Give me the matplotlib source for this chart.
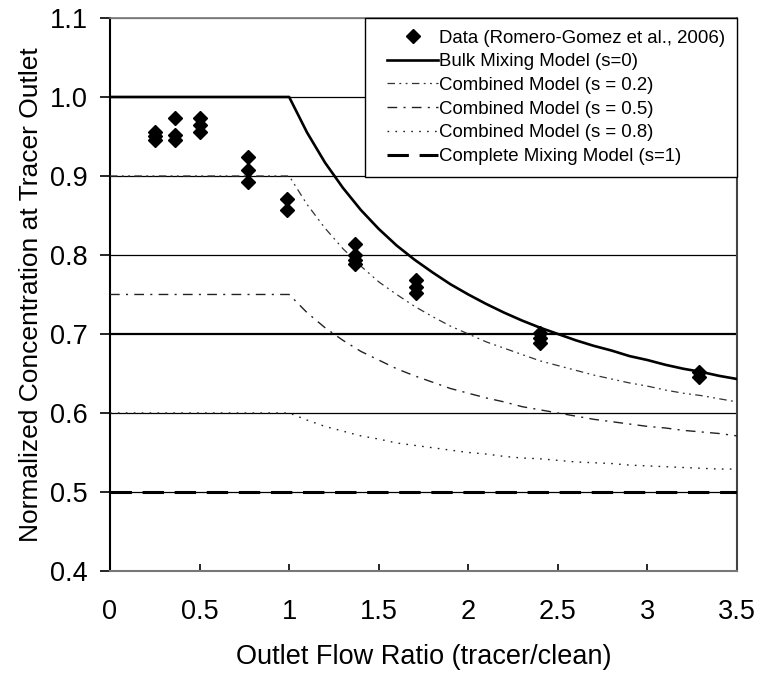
import matplotlib
matplotlib.use("Agg")
import matplotlib.pyplot as plt
from matplotlib.legend_handler import HandlerLine2D

plt.rcParams['font.family'] = ['Liberation Sans', 'DejaVu Sans']

# Measured data (diamonds)
data_x = [0.25, 0.25, 0.25, 0.365, 0.365, 0.365, 0.50, 0.50, 0.50,
          0.77, 0.77, 0.77, 0.99, 0.99, 1.37, 1.37, 1.37, 1.37,
          1.71, 1.71, 1.71, 2.40, 2.40, 2.40, 3.29, 3.29]
data_y = [0.956, 0.951, 0.945, 0.973, 0.952, 0.945, 0.973, 0.965, 0.956,
          0.924, 0.907, 0.893, 0.871, 0.857, 0.814, 0.800, 0.794, 0.789,
          0.768, 0.760, 0.752, 0.701, 0.695, 0.689, 0.652, 0.646]

# Model curves
model_x = [0.0, 1.0, 1.1, 1.2, 1.3, 1.4, 1.5, 1.6, 1.7, 1.8, 1.9, 2.0, 2.1,
           2.2, 2.3, 2.4, 2.5, 2.6, 2.7, 2.8, 2.9, 3.0, 3.1, 3.2, 3.3, 3.4, 3.5]
bulk_y = [1.000, 1.000, 0.955, 0.917, 0.885, 0.857, 0.833, 0.812, 0.794, 0.778,
          0.763, 0.750, 0.738, 0.727, 0.717, 0.708, 0.700, 0.692, 0.685, 0.679,
          0.672, 0.667, 0.661, 0.656, 0.652, 0.647, 0.643]
s02_y = [0.900, 0.900, 0.864, 0.834, 0.808, 0.786, 0.766, 0.750, 0.735, 0.722,
         0.710, 0.700, 0.690, 0.682, 0.674, 0.666, 0.660, 0.654, 0.648, 0.643,
         0.638, 0.634, 0.629, 0.625, 0.622, 0.618, 0.614]
s05_y = [0.750, 0.750, 0.727, 0.708, 0.692, 0.678, 0.667, 0.656, 0.647, 0.639,
         0.631, 0.625, 0.619, 0.614, 0.608, 0.604, 0.600, 0.596, 0.592, 0.589,
         0.586, 0.583, 0.581, 0.578, 0.576, 0.574, 0.571]
s08_y = [0.600, 0.600, 0.591, 0.583, 0.577, 0.571, 0.567, 0.562, 0.559, 0.556,
         0.553, 0.550, 0.548, 0.545, 0.543, 0.542, 0.540, 0.538, 0.537, 0.536,
         0.534, 0.533, 0.532, 0.531, 0.530, 0.529, 0.529]
complete_x = [0.0, 3.5]
complete_y = [0.5, 0.5]

x_ticks = [0, 0.5, 1, 1.5, 2, 2.5, 3, 3.5]
x_tick_labels = ['0', '0.5', '1', '1.5', '2', '2.5', '3', '3.5']
y_ticks = [0.4, 0.5, 0.6, 0.7, 0.8, 0.9, 1.0, 1.1]
y_tick_labels = ['0.4', '0.5', '0.6', '0.7', '0.8', '0.9', '1.0', '1.1']

labels = ['Data (Romero-Gomez et al., 2006)', 'Bulk Mixing Model (s=0)',
          'Combined Model (s = 0.2)', 'Combined Model (s = 0.5)',
          'Combined Model (s = 0.8)', 'Complete Mixing Model (s=1)']

fig = plt.figure(figsize=(7.57, 6.73), dpi=100)
ax = fig.add_axes([0.1453, 0.1516, 0.8283, 0.8217])

# gridlines
for yv in y_ticks[1:]:
    ax.axhline(yv, color='black' if yv < 1.05 else '#777777',
               lw=1.6 if abs(yv - 0.7) < 1e-6 else 0.9, zorder=1)

h_data, = ax.plot(data_x, data_y, linestyle='none', marker='D', color='black',
                  markersize=7.2, zorder=5)
h_bulk, = ax.plot(model_x, bulk_y, color='black', lw=1.9, zorder=4)
h_s02, = ax.plot(model_x, s02_y, color='#333333', lw=0.9,
                 dashes=(6, 3.5, 1.5, 3.5, 1.5, 3.5), zorder=3)
h_s05, = ax.plot(model_x, s05_y, color='#222222', lw=1.0,
                 dashes=(7, 4.5, 1.5, 4.5), zorder=3)
h_s08, = ax.plot(model_x, s08_y, color='#222222', lw=1.0,
                 dashes=(1.2, 4.5), zorder=3)
h_comp, = ax.plot(complete_x, complete_y, color='black', lw=2.2,
                  dashes=(7, 3.5), zorder=3)

ax.set_xlim(0, 3.5)
ax.set_ylim(0.4, 1.1)
ax.set_xticks(x_ticks)
ax.set_xticklabels(x_tick_labels)
ax.set_yticks(y_ticks)
ax.set_yticklabels(y_tick_labels)

ax.tick_params(axis='y', direction='out', length=7, width=1.2, labelsize=19.5,
               pad=9, colors='black')
ax.tick_params(axis='x', direction='in', length=5, width=1.2, labelsize=19.5,
               pad=20, colors='black')

ax.spines['left'].set_color('black')
ax.spines['left'].set_linewidth(1.5)
ax.spines['bottom'].set_color('#777777')
ax.spines['bottom'].set_linewidth(1.5)
ax.spines['right'].set_color('#444444')
ax.spines['right'].set_linewidth(1.5)
ax.spines['top'].set_color('#777777')
ax.spines['top'].set_linewidth(1.2)

ax.set_xlabel('Outlet Flow Ratio (tracer/clean)', fontsize=19.5, labelpad=14)
ax.set_ylabel('Normalized Concentration at Tracer Outlet', fontsize=19,
              labelpad=5)

handles = [h_data, h_bulk, h_s02, h_s05, h_s08, h_comp]
leg = ax.legend(handles, labels,
                loc='upper right', bbox_to_anchor=(1.0, 1.0), borderaxespad=0,
                fontsize=13.4, frameon=True, fancybox=False, handlelength=3.3,
                handletextpad=0.05, labelspacing=0.36, borderpad=0.62,
                handler_map={h: HandlerLine2D(xpad=0.55) for h in handles})
leg.get_frame().set_edgecolor('black')
leg.get_frame().set_linewidth(1.0)
leg.get_frame().set_alpha(1.0)
leg.set_zorder(10)

fig.savefig('out.png', dpi=100)
